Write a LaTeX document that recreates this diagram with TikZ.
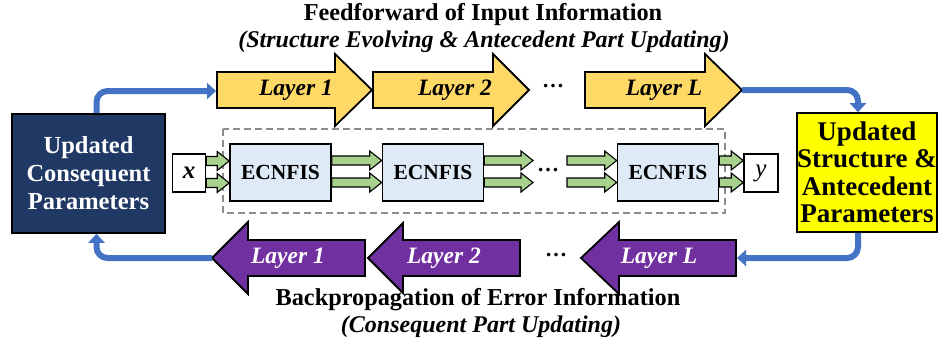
\documentclass[tikz,border=0pt]{standalone}
\usepackage{fontspec}
\setmainfont{Liberation Serif}
\usetikzlibrary{calc,arrows.meta}
\definecolor{navy}{HTML}{203864}
\definecolor{updyellow}{HTML}{FFFF00}
\definecolor{arryellow}{HTML}{FFD966}
\definecolor{arrpurple}{HTML}{7030A0}
\definecolor{arrgreen}{HTML}{A9D18E}
\definecolor{boxblue}{HTML}{DEEBF7}
\definecolor{connblue}{HTML}{4472C4}
\definecolor{dashgray}{HTML}{8C8C8C}
\tikzset{
  blk/.style={draw=black, line width=1.6pt, align=center, inner sep=0pt},
  yarr/.style={draw=black, line width=1.8pt, fill=arryellow, line join=miter},
  parr/.style={draw=black, line width=1.8pt, fill=arrpurple, line join=miter},
  garr/.style={draw=black, line width=1.1pt, fill=arrgreen, line join=miter},
  conn/.style={draw=connblue, line width=6pt, rounded corners=11pt, -{Triangle[width=16pt,length=9pt]}},
  lbl/.style={font=\fontsize{23.5}{26}\selectfont\bfseries\itshape},
  ttl/.style={font=\fontsize{24.3}{28}\selectfont\bfseries},
  ttli/.style={font=\fontsize{24}{26}\selectfont\bfseries\itshape},
  dots/.style={font=\fontsize{22}{24}\selectfont\bfseries},
}
\newcommand\greenpair[2]{%
  \foreach \dy in {12,-10}{%
    \draw[garr] let \p1=#1, \p2=#2 in
      (\x1,\y1+\dy pt+4.5pt) -- (\x2-12pt,\y1+\dy pt+4.5pt) -- (\x2-12pt,\y1+\dy pt+9.5pt)
      -- (\x2,\y1+\dy pt) -- (\x2-12pt,\y1+\dy pt-9.5pt) -- (\x2-12pt,\y1+\dy pt-4.5pt)
      -- (\x1,\y1+\dy pt-4.5pt) -- cycle;
  }%
}
\begin{document}
\begin{tikzpicture}[x=1pt,y=-1pt]
\useasboundingbox[fill=white] (0,0) rectangle (945,349);

% titles
\node[ttl] (t1) at (483,15) {Feedforward of Input Information};
\node[ttli] (t2) at (484,42) {(Structure Evolving \& Antecedent Part Updating)};
\node[ttl] (b1) at (478,300) {Backpropagation of Error Information};
\node[ttli] (b2) at (481,327) {(Consequent Part Updating)};

% side boxes
\node[blk, font=\fontsize{24.5}{28}\selectfont\bfseries, fill=navy, text=white, minimum width=153pt, minimum height=119pt] (cons) at (88.5,173.5) {Updated\\Consequent\\Parameters};
\node[blk, font=\fontsize{27}{27.5}\selectfont\bfseries, fill=updyellow, minimum width=140pt, minimum height=119pt] (upd) at (867,172.5) {Updated\\Structure \&\\Antecedent\\Parameters};

% dashed frame
\draw[dashgray, dashed, line width=1.6pt, dash pattern=on 7pt off 4pt] (223,129) rectangle (725,213);

% x, y, ECNFIS
\node[blk, fill=white, minimum width=33pt, minimum height=38pt, font=\fontsize{25}{28}\selectfont\bfseries\itshape] (xin) at (189,173) {x};
\node[blk, fill=white, minimum width=34pt, minimum height=38pt, font=\fontsize{25}{28}\selectfont\itshape] (yout) at (761,173) {y};
\node[blk, fill=boxblue, minimum width=101pt, minimum height=57pt, font=\fontsize{21.5}{24}\selectfont\bfseries] (e1) at (280.5,172.5) {ECNFIS};
\node[blk, fill=boxblue, minimum width=101pt, minimum height=57pt, font=\fontsize{21.5}{24}\selectfont\bfseries] (e2) at (433,172.5) {ECNFIS};
\node[blk, fill=boxblue, minimum width=101pt, minimum height=57pt, font=\fontsize{21.5}{24}\selectfont\bfseries] (e3) at (668,172.5) {ECNFIS};
\coordinate (gend) at (533,172.5);
\coordinate (gstart) at (567,172.5);
\node[dots] (mdots) at (548,170) {\dots};

\greenpair{(xin.east)}{(e1.west)}
\greenpair{(e1.east)}{(e2.west)}
\greenpair{(e2.east)}{(gend)}
\greenpair{(gstart)}{(e3.west)}
\greenpair{(e3.east)}{(yout.west)}

% yellow layer arrows
\draw[yarr] (217,72) -- (335,72) -- (335,54) -- (372,90) -- (335,126) -- (335,108) -- (217,108) -- cycle;
\draw[yarr] (373,72) -- (493,72) -- (493,54) -- (529,90) -- (493,126) -- (493,108) -- (373,108) -- cycle;
\draw[yarr] (585,72) -- (705,72) -- (705,54) -- (742,90) -- (705,126) -- (705,108) -- (585,108) -- cycle;
\node[lbl] (ly1) at (296,90) {Layer 1};
\node[lbl] (ly2) at (455,90) {Layer 2};
\node[lbl] (lyL) at (664,90) {Layer L};
\node[dots] (tdots) at (553,86) {\dots};
\coordinate (y1tail) at (216,91);
\coordinate (yLtip) at (742,90);

% purple layer arrows
\draw[parr] (212,258) -- (248,222) -- (248,240) -- (365,240) -- (365,276) -- (248,276) -- (248,294) -- cycle;
\draw[parr] (368,258) -- (403,223) -- (403,240) -- (520,240) -- (520,276) -- (403,276) -- (403,293) -- cycle;
\draw[parr] (581,258) -- (619,222) -- (619,240) -- (736,240) -- (736,276) -- (619,276) -- (619,294) -- cycle;
\node[lbl, text=white] (lp1) at (288,258) {Layer 1};
\node[lbl, text=white] (lp2) at (444,258) {Layer 2};
\node[lbl, text=white] (lpL) at (659,258) {Layer L};
\node[dots] (bdots) at (556,255) {\dots};
\coordinate (p1tip) at (212,258);
\coordinate (pLtail) at (737,258);

% blue connectors
\draw[conn] ([xshift=8pt]cons.north) |- (y1tail);
\draw[conn] (yLtip) -| ([xshift=-9pt]upd.north);
\draw[conn] ([xshift=-9pt]upd.south) |- (pLtail);
\draw[conn] (p1tip) -| ([xshift=8pt]cons.south);
\end{tikzpicture}
\end{document}
